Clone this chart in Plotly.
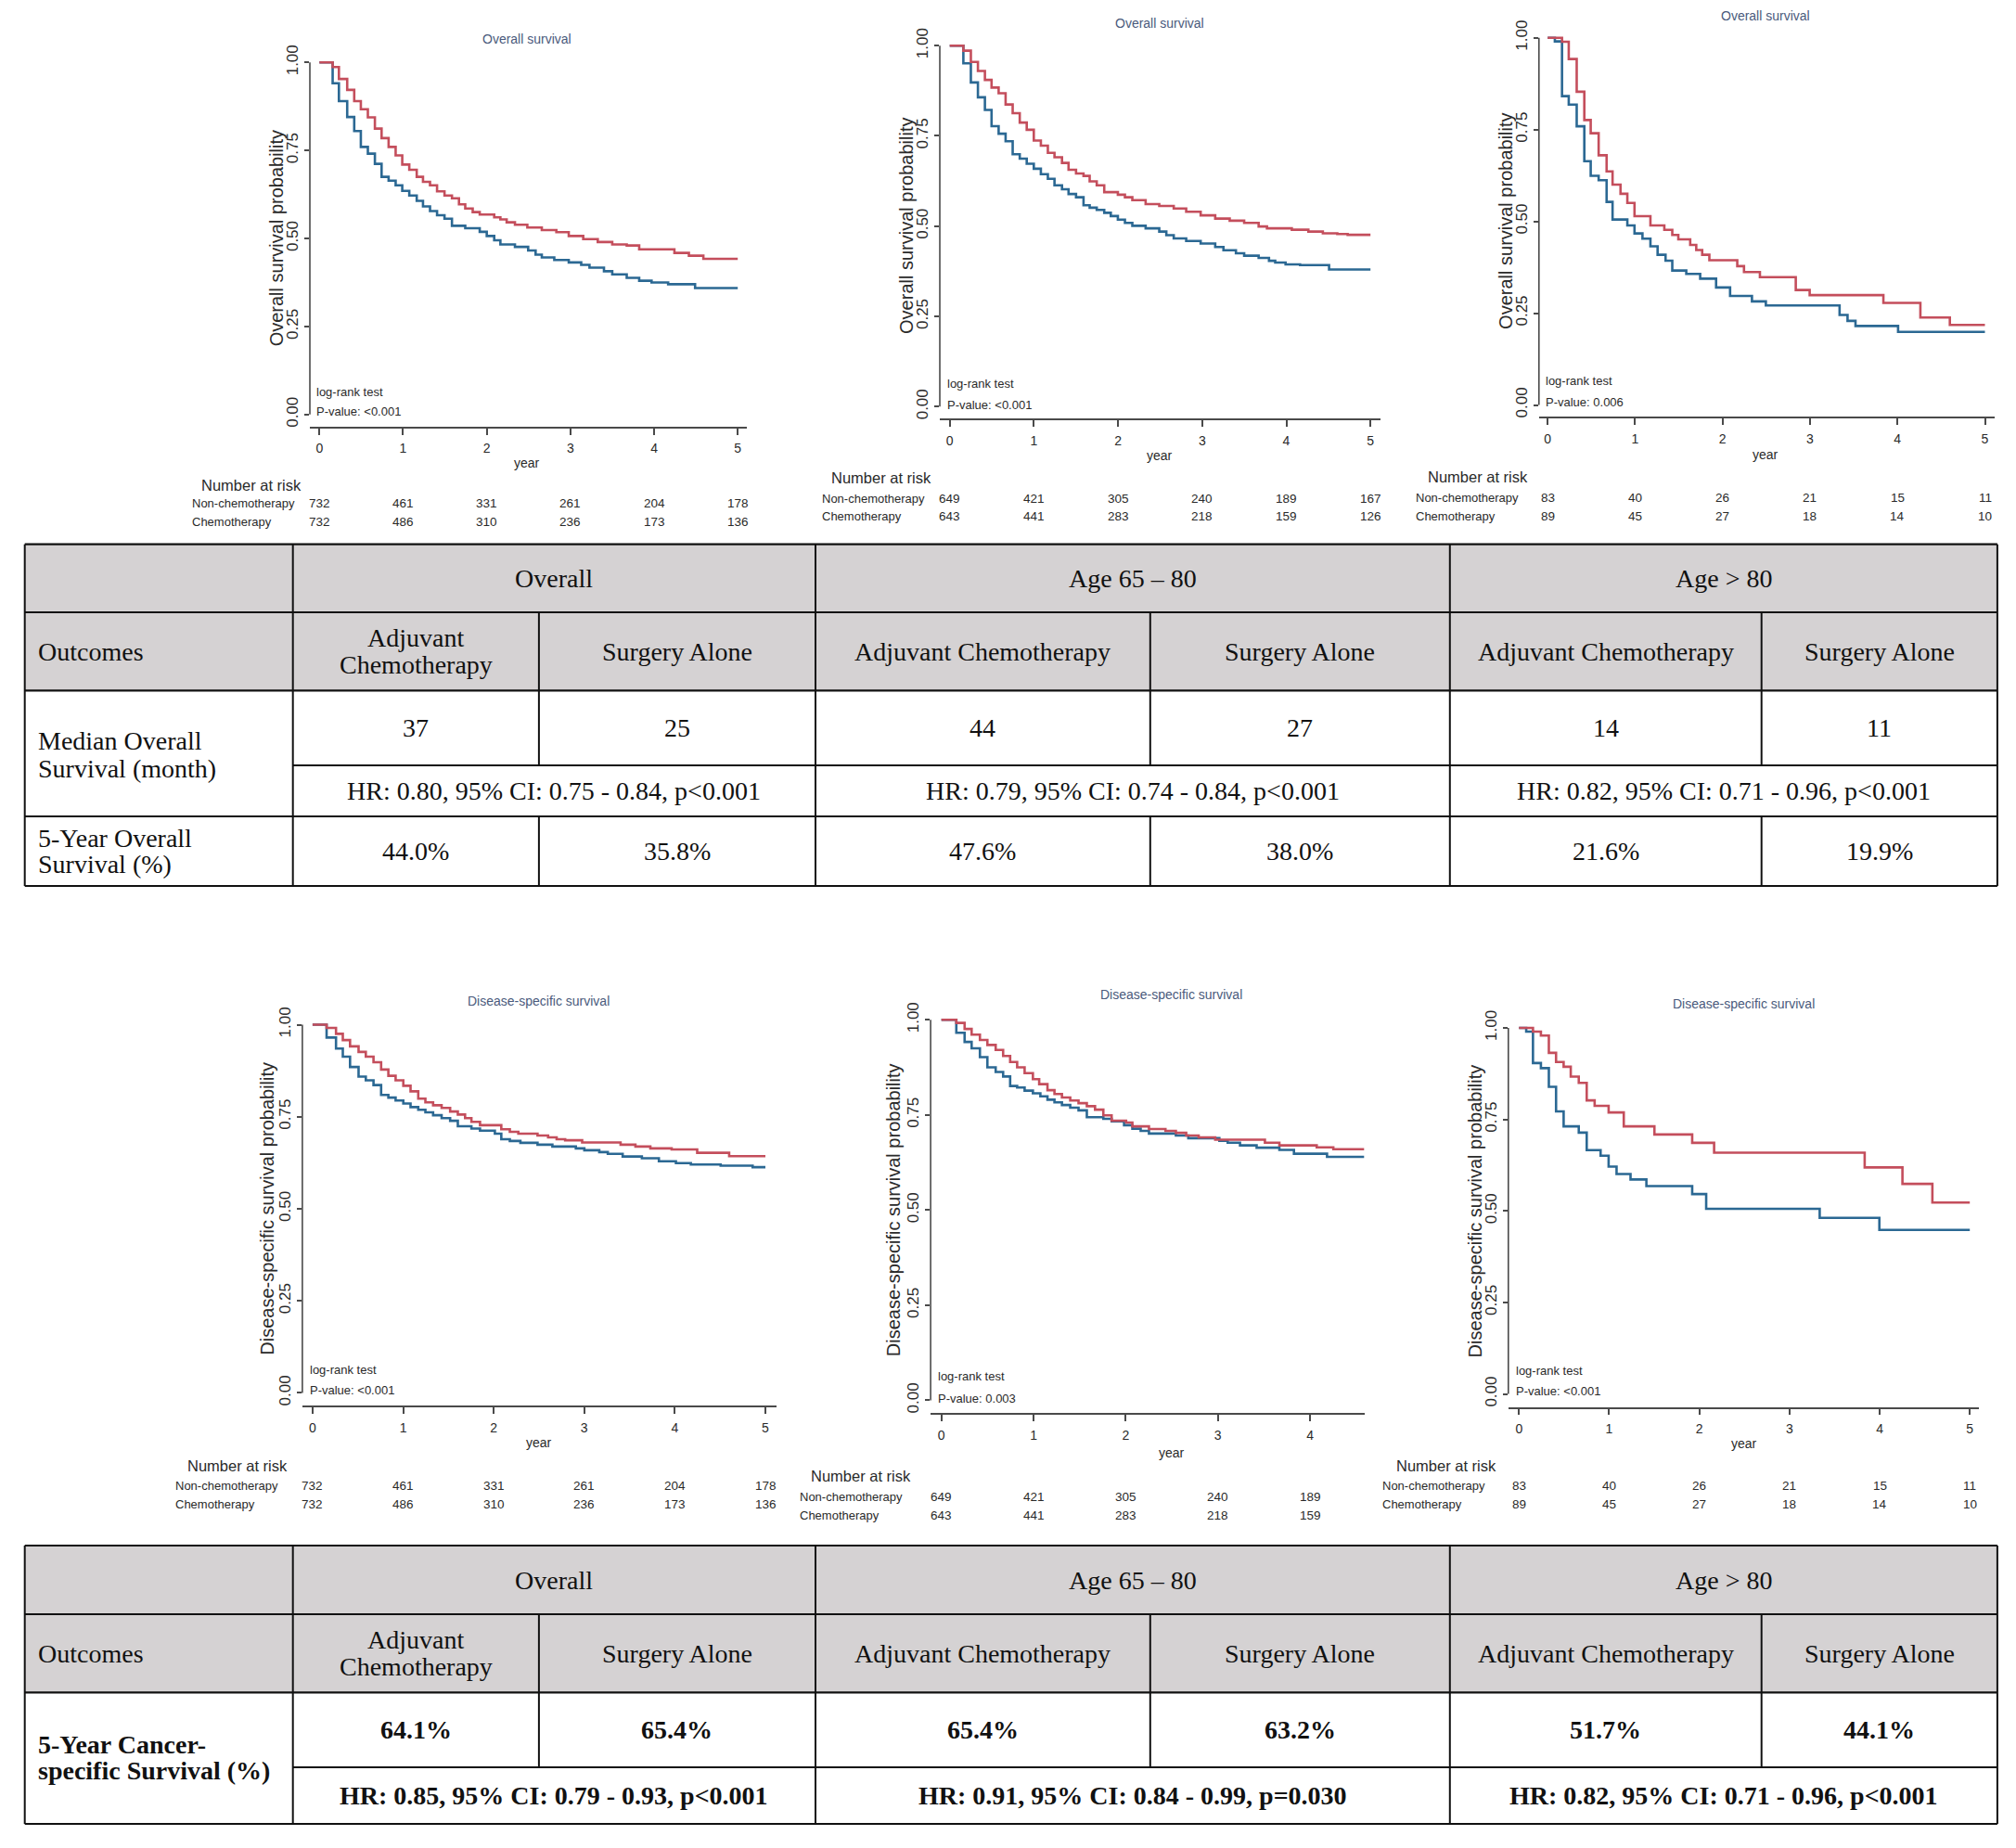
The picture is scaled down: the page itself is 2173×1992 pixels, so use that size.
import plotly.graph_objects as go

W, H = 2173, 1992
OFF = 8                      # default <body> margin of the written page
WF, HF = W - 2 * OFF, H - 2 * OFF

# ------------------------------------------------------------------ data
years5 = [0, 1, 2, 3, 4, 5]
years4 = [0, 1, 2, 3, 4]
tick_labels_y = ["0.00", "0.25", "0.50", "0.75", "1.00"]
tick_vals_y = [0, 0.25, 0.5, 0.75, 1.0]

# Overall survival, all patients
os_all_chemo_t = [0, 0.158, 0.233, 0.332, 0.416, 0.495, 0.579, 0.663, 0.743, 0.827, 0.911, 0.990, 1.074, 1.163, 1.238, 1.322, 1.406, 1.495, 1.584, 1.668, 1.743, 1.832, 1.916, 2.089, 2.163, 2.238, 2.337, 2.485, 2.658, 2.832, 2.980, 3.153, 3.327, 3.500, 3.673, 3.822, 4.243, 4.416, 4.589, 5.0]
os_all_chemo_s = [1.0, 0.987, 0.953, 0.922, 0.890, 0.867, 0.844, 0.812, 0.785, 0.760, 0.736, 0.710, 0.695, 0.675, 0.661, 0.651, 0.634, 0.622, 0.614, 0.597, 0.585, 0.575, 0.568, 0.560, 0.554, 0.546, 0.539, 0.531, 0.524, 0.518, 0.507, 0.498, 0.490, 0.483, 0.480, 0.469, 0.459, 0.451, 0.442, 0.442]
os_all_non_t = [0, 0.158, 0.233, 0.332, 0.416, 0.495, 0.579, 0.663, 0.743, 0.827, 0.911, 0.990, 1.074, 1.163, 1.238, 1.322, 1.406, 1.495, 1.584, 1.743, 1.916, 2.0, 2.089, 2.163, 2.337, 2.495, 2.584, 2.658, 2.807, 2.980, 3.129, 3.228, 3.401, 3.5, 3.673, 3.822, 3.970, 4.168, 4.490, 5.0]
os_all_non_s = [1.0, 0.941, 0.890, 0.845, 0.805, 0.760, 0.741, 0.712, 0.675, 0.664, 0.651, 0.635, 0.622, 0.607, 0.591, 0.578, 0.566, 0.556, 0.536, 0.529, 0.519, 0.507, 0.495, 0.483, 0.476, 0.466, 0.454, 0.446, 0.439, 0.432, 0.425, 0.417, 0.407, 0.398, 0.388, 0.380, 0.375, 0.370, 0.359, 0.359]

# Overall survival, age 65-80
os_6580_chemo_t = [0, 0.162, 0.251, 0.335, 0.418, 0.497, 0.581, 0.664, 0.748, 0.832, 0.915, 0.999, 1.083, 1.166, 1.245, 1.334, 1.412, 1.501, 1.590, 1.663, 1.747, 1.836, 1.998, 2.082, 2.170, 2.328, 2.490, 2.662, 2.810, 2.982, 3.155, 3.327, 3.499, 3.671, 3.770, 4.065, 4.262, 4.434, 4.606, 4.729, 5.0]
os_6580_chemo_s = [1.0, 0.986, 0.955, 0.930, 0.905, 0.884, 0.868, 0.837, 0.813, 0.787, 0.767, 0.737, 0.723, 0.703, 0.691, 0.675, 0.656, 0.646, 0.639, 0.624, 0.613, 0.594, 0.587, 0.580, 0.572, 0.561, 0.556, 0.549, 0.540, 0.530, 0.521, 0.515, 0.509, 0.499, 0.494, 0.490, 0.485, 0.480, 0.478, 0.476, 0.476]
os_6580_non_t = [0, 0.162, 0.251, 0.335, 0.418, 0.497, 0.581, 0.664, 0.748, 0.832, 0.915, 0.999, 1.083, 1.166, 1.245, 1.334, 1.412, 1.501, 1.590, 1.663, 1.747, 1.836, 1.914, 1.998, 2.082, 2.170, 2.328, 2.490, 2.574, 2.662, 2.810, 2.982, 3.155, 3.253, 3.401, 3.499, 3.671, 3.794, 3.868, 3.991, 4.163, 4.508, 5.0]
os_6580_non_s = [1.0, 0.951, 0.898, 0.857, 0.822, 0.777, 0.756, 0.735, 0.699, 0.687, 0.673, 0.659, 0.644, 0.631, 0.613, 0.602, 0.589, 0.580, 0.558, 0.551, 0.545, 0.537, 0.528, 0.518, 0.509, 0.501, 0.494, 0.485, 0.475, 0.466, 0.459, 0.452, 0.442, 0.433, 0.425, 0.418, 0.412, 0.404, 0.399, 0.394, 0.392, 0.380, 0.380]

# Overall survival, age > 80
os_80_chemo_t = [0, 0.164, 0.241, 0.332, 0.419, 0.492, 0.583, 0.674, 0.742, 0.833, 0.911, 0.993, 1.175, 1.334, 1.425, 1.494, 1.630, 1.699, 1.767, 1.849, 2.168, 2.245, 2.427, 2.837, 2.996, 3.839, 4.262, 4.599, 5.0]
os_80_chemo_s = [1.0, 0.989, 0.942, 0.853, 0.776, 0.740, 0.680, 0.636, 0.600, 0.575, 0.550, 0.514, 0.489, 0.477, 0.463, 0.451, 0.436, 0.422, 0.409, 0.394, 0.378, 0.362, 0.348, 0.313, 0.299, 0.278, 0.238, 0.218, 0.218]
os_80_non_t = [0, 0.082, 0.164, 0.241, 0.332, 0.419, 0.492, 0.583, 0.674, 0.742, 0.911, 0.993, 1.084, 1.175, 1.257, 1.348, 1.425, 1.585, 1.744, 1.926, 2.086, 2.336, 2.495, 3.338, 3.429, 3.520, 4.007, 5.0]
os_80_non_s = [1.0, 0.990, 0.841, 0.818, 0.759, 0.664, 0.624, 0.612, 0.553, 0.505, 0.489, 0.467, 0.453, 0.432, 0.409, 0.393, 0.366, 0.357, 0.344, 0.320, 0.297, 0.282, 0.271, 0.245, 0.229, 0.215, 0.199, 0.199]

# Disease-specific survival, all patients
dss_all_chemo_t = [0, 0.155, 0.259, 0.334, 0.414, 0.508, 0.588, 0.673, 0.757, 0.837, 0.917, 1.002, 1.082, 1.167, 1.246, 1.331, 1.425, 1.519, 1.604, 1.684, 1.754, 1.849, 2.084, 2.178, 2.272, 2.484, 2.601, 2.695, 2.789, 2.977, 3.401, 3.565, 3.730, 3.965, 4.247, 4.600, 5.0]
dss_all_chemo_s = [1.0, 0.991, 0.975, 0.958, 0.941, 0.926, 0.913, 0.898, 0.878, 0.861, 0.849, 0.834, 0.819, 0.799, 0.789, 0.781, 0.774, 0.764, 0.756, 0.746, 0.736, 0.727, 0.716, 0.709, 0.704, 0.699, 0.694, 0.689, 0.686, 0.680, 0.674, 0.669, 0.664, 0.661, 0.652, 0.643, 0.643]
dss_all_non_t = [0, 0.155, 0.259, 0.334, 0.414, 0.508, 0.588, 0.673, 0.757, 0.837, 0.917, 1.002, 1.082, 1.167, 1.246, 1.331, 1.425, 1.519, 1.604, 1.754, 1.849, 2.013, 2.084, 2.178, 2.295, 2.484, 2.648, 2.907, 3.001, 3.166, 3.260, 3.424, 3.636, 3.824, 4.012, 4.177, 4.506, 4.859, 5.0]
dss_all_non_s = [1.0, 0.965, 0.935, 0.913, 0.885, 0.859, 0.849, 0.836, 0.809, 0.802, 0.794, 0.786, 0.776, 0.769, 0.762, 0.754, 0.746, 0.739, 0.724, 0.718, 0.712, 0.704, 0.689, 0.684, 0.679, 0.674, 0.669, 0.664, 0.659, 0.654, 0.649, 0.642, 0.637, 0.629, 0.624, 0.620, 0.617, 0.613, 0.613]

# Disease-specific survival, age 65-80
dss_6580_chemo_t = [0, 0.162, 0.252, 0.328, 0.418, 0.499, 0.589, 0.670, 0.746, 0.822, 0.903, 0.993, 1.061, 1.151, 1.227, 1.308, 1.398, 1.488, 1.578, 1.667, 1.757, 1.847, 2.004, 2.072, 2.252, 2.431, 2.544, 2.656, 2.791, 2.971, 3.510, 3.667, 4.072, 4.252, 4.589]
dss_6580_chemo_s = [1.0, 0.992, 0.976, 0.961, 0.947, 0.934, 0.921, 0.905, 0.889, 0.875, 0.860, 0.844, 0.831, 0.815, 0.805, 0.796, 0.788, 0.781, 0.773, 0.764, 0.749, 0.735, 0.730, 0.720, 0.713, 0.708, 0.703, 0.696, 0.691, 0.685, 0.677, 0.670, 0.665, 0.660, 0.660]
dss_6580_non_t = [0, 0.162, 0.252, 0.328, 0.418, 0.499, 0.589, 0.670, 0.746, 0.822, 0.903, 0.993, 1.074, 1.151, 1.227, 1.308, 1.398, 1.488, 1.578, 1.757, 1.847, 1.982, 2.072, 2.162, 2.252, 2.544, 2.679, 3.016, 3.106, 3.240, 3.420, 3.667, 3.825, 4.184, 4.589]
dss_6580_non_s = [1.0, 0.966, 0.942, 0.925, 0.902, 0.875, 0.863, 0.851, 0.826, 0.822, 0.814, 0.807, 0.799, 0.790, 0.783, 0.776, 0.769, 0.762, 0.744, 0.740, 0.733, 0.723, 0.714, 0.708, 0.701, 0.696, 0.689, 0.682, 0.677, 0.670, 0.664, 0.658, 0.648, 0.640, 0.640]

# Disease-specific survival, age > 80
dss_80_chemo_t = [0, 0.155, 0.243, 0.331, 0.411, 0.495, 0.574, 0.663, 0.751, 0.839, 0.994, 1.162, 1.502, 1.921, 2.164, 3.834, 4.253, 4.585, 5.0]
dss_80_chemo_s = [1.0, 0.990, 0.979, 0.932, 0.907, 0.894, 0.867, 0.850, 0.802, 0.787, 0.769, 0.731, 0.709, 0.686, 0.659, 0.619, 0.574, 0.523, 0.523]
dss_80_non_t = [0, 0.080, 0.155, 0.243, 0.331, 0.411, 0.495, 0.663, 0.751, 0.905, 0.994, 1.082, 1.237, 1.413, 1.921, 2.076, 3.335, 3.997, 5.0]
dss_80_non_s = [1.0, 0.990, 0.904, 0.890, 0.839, 0.772, 0.731, 0.714, 0.666, 0.651, 0.621, 0.601, 0.586, 0.568, 0.546, 0.506, 0.481, 0.448, 0.448]

# numbers at risk
risk_all_non = [732, 461, 331, 261, 204, 178]
risk_all_chemo = [732, 486, 310, 236, 173, 136]
risk_6580_non = [649, 421, 305, 240, 189, 167]
risk_6580_chemo = [643, 441, 283, 218, 159, 126]
risk_80_non = [83, 40, 26, 21, 15, 11]
risk_80_chemo = [89, 45, 27, 18, 14, 10]

# tables
tbl_groups = ["Overall", "Age 65 – 80", "Age > 80"]
tbl_arm_chemo = "Adjuvant Chemotherapy"
tbl_arm_surg = "Surgery Alone"
os_median = ["37", "25", "44", "27", "14", "11"]
os_hr = ["HR: 0.80, 95% CI: 0.75 - 0.84, p<0.001",
         "HR: 0.79, 95% CI: 0.74 - 0.84, p<0.001",
         "HR: 0.82, 95% CI: 0.71 - 0.96, p<0.001"]
os_5yr = ["44.0%", "35.8%", "47.6%", "38.0%", "21.6%", "19.9%"]
css_5yr = ["64.1%", "65.4%", "65.4%", "63.2%", "51.7%", "44.1%"]
css_hr = ["HR: 0.85, 95% CI: 0.79 - 0.93, p<0.001",
          "HR: 0.91, 95% CI: 0.84 - 0.99, p=0.030",
          "HR: 0.82, 95% CI: 0.71 - 0.96, p<0.001"]

# ------------------------------------------------------------------ styling
RED = "#c44e5c"
BLUE = "#2b6893"
AXC = "#4a4a4a"
TXT = "#2a2a2a"
TITLEC = "#4a5a7c"
SANS = "Liberation Sans, Arial, sans-serif"
SERIF = "Liberation Serif, Times New Roman, serif"
GRAYFILL = "#d5d2d3"

def PX(x):
    return (x - OFF) / WF

def PY(y):
    return 1 - (y - OFF) / HF

panels = [
    dict(yline=334.0, xend=805.0, x0=344.3, xu=(795.2 - 344.3) / 5, y1=67.3, y0=446.8, xline=459.8,
         title="Overall survival", ttl=(568.4, 42.5), ytitle="Overall survival probability", ytx=298.3,
         year=(568.4, 498.6), lr=(338.5, 422.8), pv=443.9, pvtext="P-value: <0.001",
         nar=(214.8, 522.7), lab=(204.6, 542.6, 562.3), xt=years5,
         red=(os_all_chemo_t, os_all_chemo_s), blue=(os_all_non_t, os_all_non_s),
         rn=risk_all_non, rc=risk_all_chemo),
    dict(yline=1013.0, xend=1487.5, x0=1023.7, xu=(1477.2 - 1023.7) / 5, y1=49.2, y0=438.3, xline=451.3,
         title="Overall survival", ttl=(1250.4, 24.8), ytitle="Overall survival probability", ytx=977.2,
         year=(1249.6, 491.2), lr=(1018.8, 413.6), pv=436.5, pvtext="P-value: <0.001",
         nar=(893.8, 515.3), lab=(883.5, 537.1, 556.0), xt=years5,
         red=(os_6580_chemo_t, os_6580_chemo_s), blue=(os_6580_non_t, os_6580_non_s),
         rn=risk_6580_non, rc=risk_6580_chemo),
    dict(yline=1658.8, xend=2150.2, x0=1668.2, xu=(2139.5 - 1668.2) / 5, y1=40.7, y0=436.5, xline=449.4,
         title="Overall survival", ttl=(1903.4, 16.6), ytitle="Overall survival probability", ytx=1622.3,
         year=(1903.4, 490.1), lr=(1664.0, 410.6), pv=433.5, pvtext="P-value: 0.006",
         nar=(1536.5, 514.2), lab=(1523.6, 536.4, 556.0), xt=years5,
         red=(os_80_chemo_t, os_80_chemo_s), blue=(os_80_non_t, os_80_non_s),
         rn=risk_80_non, rc=risk_80_chemo),
    dict(yline=325.9, xend=836.5, x0=336.9, xu=(825.0 - 336.9) / 5, y1=1104.5, y0=1501.4, xline=1515.3,
         title="Disease-specific survival", ttl=(580.7, 1078.8), ytitle="Disease-specific survival probability", ytx=287.7,
         year=(580.7, 1555.2), lr=(332.3, 1476.2), pv=1498.7, pvtext="P-value: <0.001",
         nar=(199.6, 1579.7), lab=(186.7, 1601.5, 1621.3), xt=years5,
         red=(dss_all_chemo_t, dss_all_chemo_s), blue=(dss_all_non_t, dss_all_non_s),
         rn=risk_all_non, rc=risk_all_chemo),
    dict(yline=1003.1, xend=1470.5, x0=1014.7, xu=(1412.1 - 1014.7) / 4, y1=1099.3, y0=1509.4, xline=1523.2,
         title="Disease-specific survival", ttl=(1262.9, 1072.4), ytitle="Disease-specific survival probability", ytx=963.8,
         year=(1262.9, 1565.9), lr=(1009.4, 1483.7), pv=1507.4, pvtext="P-value: 0.003",
         nar=(872.3, 1590.8), lab=(859.8, 1613.3, 1633.9), xt=years4,
         red=(dss_6580_chemo_t, dss_6580_chemo_s), blue=(dss_6580_non_t, dss_6580_non_s),
         rn=risk_6580_non[:5], rc=risk_6580_chemo[:5]),
    dict(yline=1625.8, xend=2133.1, x0=1637.3, xu=(2123.2 - 1637.3) / 5, y1=1108.0, y0=1502.6, xline=1516.5,
         title="Disease-specific survival", ttl=(1879.8, 1082.3), ytitle="Disease-specific survival probability", ytx=1590.1,
         year=(1879.8, 1556.0), lr=(1632.2, 1477.0), pv=1499.9, pvtext="P-value: <0.001",
         nar=(1503.0, 1579.7), lab=(1487.5, 1601.5, 1621.3), xt=years5,
         red=(dss_80_chemo_t, dss_80_chemo_s), blue=(dss_80_non_t, dss_80_non_s),
         rn=risk_80_non, rc=risk_80_chemo),
]

fig = go.Figure()
layout = dict(width=WF, height=HF, margin=dict(l=0, r=0, t=0, b=0, pad=0),
              paper_bgcolor="white", plot_bgcolor="rgba(0,0,0,0)", showlegend=False)
ann = []
shapes = []

def text(x, y, s, size, family=SANS, color=TXT, xanchor="left", angle=0, xref="paper"):
    ann.append(dict(x=x if xref != "paper" else PX(x), y=PY(y), xref=xref, yref="paper", text=s,
                    showarrow=False, xanchor=xanchor, yanchor="middle", textangle=angle,
                    font=dict(size=size, family=family, color=color)))

for i, p in enumerate(panels, start=1):
    sfx = "" if i == 1 else str(i)
    xr, yr = "x" + sfx, "y" + sfx
    xu = p["xu"]
    yu = p["y0"] - p["y1"]
    top = p["y1"] - 12
    layout["xaxis" + sfx] = dict(
        domain=[PX(p["yline"]), PX(p["xend"])],
        range=[(p["yline"] - p["x0"]) / xu, (p["xend"] - p["x0"]) / xu],
        anchor=yr, showline=True, linecolor=AXC, linewidth=1.6, mirror=False,
        ticks="outside", ticklen=7, tickwidth=1.5, tickcolor=AXC,
        tickvals=p["xt"], ticktext=[str(v) for v in p["xt"]], ticklabelstandoff=3,
        tickfont=dict(family=SANS, size=14, color=TXT),
        showgrid=False, zeroline=False, automargin=False, fixedrange=True)
    layout["yaxis" + sfx] = dict(
        domain=[PY(p["xline"]), PY(top)],
        range=[-(p["xline"] - p["y0"]) / yu, 1 + (p["y1"] - top) / yu],
        anchor=xr, showline=False, ticks="outside", ticklen=5, tickwidth=1.5, tickcolor=AXC,
        tickvals=tick_vals_y, ticktext=tick_labels_y, tickangle=-90,
        tickfont=dict(family=SANS, size=17, color=TXT),
        showgrid=False, zeroline=False, automargin=False, fixedrange=True)
    for (t, s), col in ((p["blue"], BLUE), (p["red"], RED)):
        fig.add_trace(go.Scatter(x=t, y=s, mode="lines", xaxis=xr, yaxis=yr,
                                 line=dict(color=col, width=2.6, shape="hv"), hoverinfo="skip"))
    shapes.append(dict(type="line", xref=xr + " domain", yref=yr, x0=0, x1=0, y0=0, y1=1,
                       line=dict(color=AXC, width=1.6)))
    text(p["ttl"][0], p["ttl"][1], p["title"], 14, color=TITLEC, xanchor="center")
    text(p["ytx"], (p["y0"] + p["y1"]) / 2, p["ytitle"], 20, xanchor="center", angle=-90)
    text(p["year"][0], p["year"][1], "year", 14, xanchor="center")
    text(p["lr"][0], p["lr"][1], "log-rank test", 13)
    text(p["lr"][0], p["pv"], p["pvtext"], 13)
    text(p["nar"][0], p["nar"][1], "Number at risk", 16.5)
    text(p["lab"][0], p["lab"][1], "Non-chemotherapy", 13)
    text(p["lab"][0], p["lab"][2], "Chemotherapy", 13)
    for yv, n in zip(p["xt"], p["rn"]):
        text(yv, p["lab"][1], str(n), 13.5, xanchor="center", xref=xr)
    for yv, n in zip(p["xt"], p["rc"]):
        text(yv, p["lab"][2], str(n), 13.5, xanchor="center", xref=xr)

# ------------------------------------------------------------------ tables
C = [26.7, 315.7, 580.9, 879.0, 1239.8, 1562.8, 1898.7, 2152.9]
TS = 28

def hline(x0, x1, y, w=2.2):
    shapes.append(dict(type="line", xref="paper", yref="paper", x0=PX(x0), x1=PX(x1), y0=PY(y), y1=PY(y),
                       line=dict(color="#111111", width=w)))

def vline(x, y0, y1, w=2.0):
    shapes.append(dict(type="line", xref="paper", yref="paper", x0=PX(x), x1=PX(x), y0=PY(y0), y1=PY(y1),
                       line=dict(color="#111111", width=w)))

def ttext(x, y, s, anchor="center", bold=False):
    text(x, y, "<b>%s</b>" % s if bold else s, TS, family=SERIF, color="#111111", xanchor=anchor)

def table(R, vals, hrs, bold, label_lines):
    # R: y of horizontal rules [top, h1, h2, r1, r2, (r3)]
    shapes.append(dict(type="rect", xref="paper", yref="paper", x0=PX(C[0]), x1=PX(C[-1]),
                       y0=PY(R[0]), y1=PY(R[2]), fillcolor=GRAYFILL, line=dict(width=0), layer="below"))
    hline(C[0], C[-1], R[0])
    hline(C[0], C[-1], R[1])
    hline(C[0], C[-1], R[2])
    hline(C[1], C[-1], R[3])
    hline(C[0], C[-1], R[4])
    if len(R) == 6:
        hline(C[0], C[-1], R[5])
    bottom = R[-1]
    for x in (C[0], C[1], C[3], C[5], C[7]):
        vline(x, R[0], bottom)
    for x in (C[2], C[4], C[6]):
        vline(x, R[1], R[3])
        if len(R) == 6:
            vline(x, R[4], R[5])
    h1 = (R[0] + R[1]) / 2
    h2 = (R[1] + R[2]) / 2
    for g, (a, b) in zip(tbl_groups, ((C[1], C[3]), (C[3], C[5]), (C[5], C[7]))):
        ttext((a + b) / 2, h1, g)
    ttext(38.6, h2, "Outcomes", anchor="left")
    ttext((C[1] + C[2]) / 2, h2 - 14.2, "Adjuvant")
    ttext((C[1] + C[2]) / 2, h2 + 14.2, "Chemotherapy")
    ttext((C[2] + C[3]) / 2, h2, tbl_arm_surg)
    ttext((C[3] + C[4]) / 2, h2, tbl_arm_chemo)
    ttext((C[4] + C[5]) / 2, h2, tbl_arm_surg)
    ttext((C[5] + C[6]) / 2, h2, tbl_arm_chemo)
    ttext((C[6] + C[7]) / 2, h2, tbl_arm_surg)
    r1 = (R[2] + R[3]) / 2
    r2 = (R[3] + R[4]) / 2
    for k, v in enumerate(vals[0]):
        ttext((C[k + 1] + C[k + 2]) / 2, r1, v, bold=bold)
    for k, v in enumerate(hrs):
        ttext((C[2 * k + 1] + C[2 * k + 3]) / 2, r2, v, bold=bold)
    for (yy, s) in label_lines:
        ttext(38.6, yy, s, anchor="left", bold=bold)
    if len(R) == 6:
        r3 = (R[4] + R[5]) / 2
        for k, v in enumerate(vals[1]):
            ttext((C[k + 1] + C[k + 2]) / 2, r3, v, bold=bold)

table([586.7, 660.0, 744.3, 825.0, 880.0, 955.0], [os_median, os_5yr], os_hr, False,
      [(798.3, "Median Overall"), (828.3, "Survival (month)"),
       (903.3, "5-Year Overall"), (931.7, "Survival (%)")])
table([1666.0, 1740.0, 1824.3, 1905.0, 1966.0], [css_5yr], css_hr, True,
      [(1880.0, "5-Year Cancer-"), (1908.3, "specific Survival (%)")])

layout["annotations"] = ann
layout["shapes"] = shapes
fig.update_layout(**layout)
fig.write_html("out.html")
